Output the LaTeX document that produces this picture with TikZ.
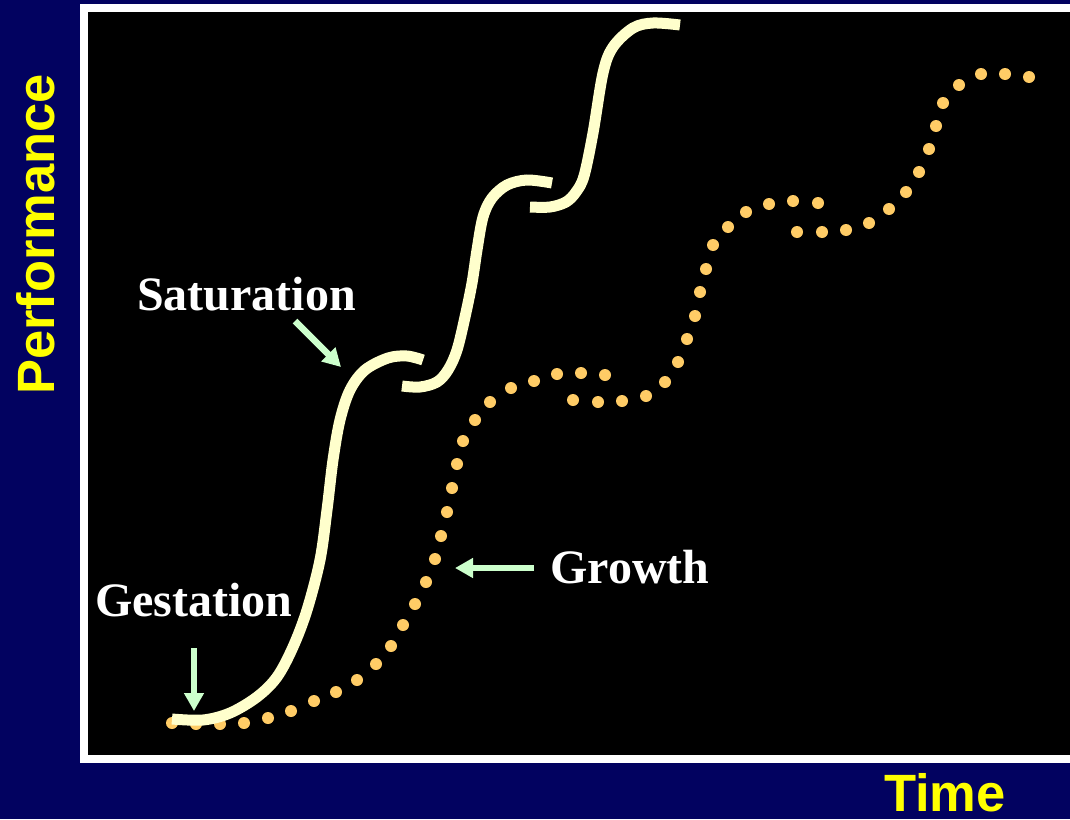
\documentclass[tikz,border=0pt]{standalone}
\usepackage{fontspec}
\setmainfont{Liberation Serif}
\newfontfamily\arialb{Liberation Sans}
\usetikzlibrary{arrows.meta}
\definecolor{navy}{RGB}{2,2,96}
\definecolor{cream}{RGB}{255,255,204}
\definecolor{dotc}{RGB}{255,204,102}
\definecolor{mint}{RGB}{204,255,204}
\definecolor{axisy}{RGB}{255,255,0}
\begin{document}
\begin{tikzpicture}[x=1pt,y=-1pt,
  curve/.style={cream, line width=11pt, line cap=butt},
  pointer/.style={mint, line width=6.5pt, -{Triangle[length=18pt,width=19pt]}},
  stage/.style={white, font=\bfseries\fontsize{48}{50}\selectfont, inner sep=0pt, anchor=base west},
  axislabel/.style={axisy, font=\arialb\bfseries\fontsize{52.5}{54}\selectfont, inner sep=0pt, anchor=base west},
  dot/.style={dotc}]
\useasboundingbox (0,0) rectangle (1070,819);
\clip (0,0) rectangle (1070,819);
\fill[navy] (0,0) rectangle (1070,819);
\fill[white] (80,4) rectangle (1080,763);
\fill[black] (88,12) rectangle (1080,755);

% dotted curve
\foreach \p in {(172,723),(196,724),(220,724),(244,723),(268,718),(291,711),(314,701),(336,692),(357,680),(376,664),(391,646),(403,625),(415,604),(426,582),(435,559),(441,536),(447,512),(452,488),(457,464),(463,441),(475,420),(490,402),(511,388),(534,381),(557,374),(581,373),(605,375),
  (573,400),(598,402),(622,401),(646,396),(665,382),(678,362),(687,339),(695,316),(700,292),(706,269),(713,245),(728,227),(746,212),(769,204),(793,201),(818,203),
  (797,232),(822,232),(846,230),(869,223),(889,209),(906,192),(919,172),(929,149),(936,126),(943,103),(959,85),(981,74),(1005,74),(1029,77)}
  \fill[dot] \p circle (6pt);

% solid curve
\draw[curve] plot[smooth, tension=0.55] coordinates {(172,719) (203,720) (230,713) (257,697) (277,677) (293,647) (307,610) (320,560) (327,510) (333,460) (340,420) (350,390) (365,370) (388,358) (407,356) (423,360)};
\draw[curve] plot[smooth, tension=0.55] coordinates {(402,386) (420,387) (437,382) (448,370) (457,350) (465,317) (472,283) (477,250) (483,217) (492,198) (507,185) (527,180) (552,183)};
\draw[curve] plot[smooth, tension=0.55] coordinates {(530,207) (550,207) (566,202) (576,192) (584,176) (593,133) (603,73) (613,47) (633,28) (653,23) (680,25)};

% labels
\node[stage] (sat) at (137,310) {Saturation};
\node[stage] (gest) at (95,616) {Gestation};
\node[stage] (grow) at (550,583) {Growth};
\node[axislabel, rotate=90] (perf) at (54,395) {Performance};
\node[axislabel] (time) at (884,811) {Time};

% pointers
\coordinate (gA) at (194,648); \coordinate (gB) at (194,711);
\coordinate (sA) at (295,321); \coordinate (sB) at (341,367);
\coordinate (wA) at (534,568); \coordinate (wB) at (455,568);
\draw[pointer] (gA) -- (gB);
\draw[pointer] (sA) -- (sB);
\draw[pointer] (wA) -- (wB);
\end{tikzpicture}
\end{document}
